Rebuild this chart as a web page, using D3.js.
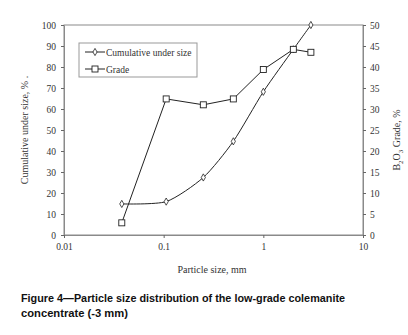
<!DOCTYPE html>
<html>
<head>
<meta charset="utf-8">
<script src="https://cdn.jsdelivr.net/npm/d3@7"></script>
<style>
  body { margin: 0; background: #fff; }
  svg { display: block; }
</style>
</head>
<body>
<div id="chart"></div>
<script>
// particle sizes (mm)
var sizes = [0.038, 0.106, 0.25, 0.5, 1, 2, 3];
var cumulative = [14.8, 15.9, 27.4, 44.6, 68.2, 88.4, 100];
var grade = [2.9, 32.4, 31.0, 32.4, 39.4, 44.2, 43.5];
var xTicks = [0.01, 0.1, 1, 10];
var xTickLabels = ["0.01", "0.1", "1", "10"];
var leftTicks = [0, 10, 20, 30, 40, 50, 60, 70, 80, 90, 100];
var rightTicks = [0, 5, 10, 15, 20, 25, 30, 35, 40, 45, 50];

var W = 408, H = 335;
var plot = {left: 64, right: 363, top: 25, bottom: 235};

var svg = d3.select("#chart").append("svg")
    .attr("width", W)
    .attr("height", H)
    .style("font-family", "'Liberation Serif', 'Times New Roman', serif");

var x = d3.scaleLog().domain([0.01, 10]).range([plot.left, plot.right]);
var yL = d3.scaleLinear().domain([0, 100]).range([plot.bottom, plot.top]);
var yR = d3.scaleLinear().domain([0, 50]).range([plot.bottom, plot.top]);

// frame
svg.append("rect")
    .attr("x", plot.left).attr("y", plot.top)
    .attr("width", plot.right - plot.left)
    .attr("height", plot.bottom - plot.top)
    .attr("fill", "none")
    .attr("stroke", "#8a8a8a")
    .attr("stroke-width", 1);

function styleAxis(g) {
    g.select(".domain").attr("stroke", "#8a8a8a");
    g.selectAll(".tick line").attr("stroke", "#666");
    g.selectAll(".tick text").attr("fill", "#333")
        .style("font-size", "9.5px")
        .style("font-family", "'Liberation Serif', 'Times New Roman', serif");
}

svg.append("g")
    .attr("transform", "translate(" + plot.left + ",0)")
    .call(d3.axisLeft(yL).tickValues(leftTicks).tickSize(3).tickPadding(5).tickSizeOuter(0))
    .call(styleAxis);

svg.append("g")
    .attr("transform", "translate(" + plot.right + ",0)")
    .call(d3.axisRight(yR).tickValues(rightTicks).tickSize(3).tickPadding(4).tickSizeOuter(0))
    .call(styleAxis);

svg.append("g")
    .attr("transform", "translate(0," + plot.bottom + ")")
    .call(d3.axisBottom(x).tickValues(xTicks)
        .tickFormat(function(d, i) { return xTickLabels[i]; })
        .tickSize(3).tickPadding(5).tickSizeOuter(0))
    .call(styleAxis);

// axis titles
svg.append("text")
    .attr("transform", "translate(28,130) rotate(-90)")
    .attr("text-anchor", "middle")
    .attr("fill", "#333")
    .style("font-size", "10px")
    .text("Cumulative under size, % .");

var rt = svg.append("text")
    .attr("transform", "translate(400,140) rotate(-90)")
    .attr("text-anchor", "middle")
    .attr("fill", "#333")
    .style("font-size", "10px");
rt.append("tspan").text("B");
rt.append("tspan").attr("dy", 3).style("font-size", "7px").text("2");
rt.append("tspan").attr("dy", -3).text("O");
rt.append("tspan").attr("dy", 3).style("font-size", "7px").text("3");
rt.append("tspan").attr("dy", -3).text(" Grade, %");

svg.append("text")
    .attr("x", 212).attr("y", 273)
    .attr("text-anchor", "middle")
    .attr("fill", "#333")
    .style("font-size", "10px")
    .text("Particle size, mm");

// series
var cumData = sizes.map(function(s, i) { return [s, cumulative[i]]; });
var gradeData = sizes.map(function(s, i) { return [s, grade[i]]; });

svg.append("path")
    .datum(cumData)
    .attr("fill", "none")
    .attr("stroke", "#222")
    .attr("stroke-width", 1)
    .attr("d", d3.line()
        .x(function(d) { return x(d[0]); })
        .y(function(d) { return yL(d[1]); })
        .curve(d3.curveCardinal.tension(0.3)));

svg.append("path")
    .datum(gradeData)
    .attr("fill", "none")
    .attr("stroke", "#222")
    .attr("stroke-width", 1)
    .attr("d", d3.line()
        .x(function(d) { return x(d[0]); })
        .y(function(d) { return yR(d[1]); }));

var diamond = d3.symbol().type(d3.symbolDiamond).size(15);

svg.append("g").selectAll("path")
    .data(cumData)
    .enter().append("path")
    .attr("transform", function(d) { return "translate(" + x(d[0]) + "," + yL(d[1]) + ")"; })
    .attr("d", diamond)
    .attr("fill", "#fff")
    .attr("stroke", "#222")
    .attr("stroke-width", 0.8);

svg.append("g").selectAll("rect")
    .data(gradeData)
    .enter().append("rect")
    .attr("x", function(d) { return x(d[0]) - 3; })
    .attr("y", function(d) { return yR(d[1]) - 3; })
    .attr("width", 6)
    .attr("height", 6)
    .attr("fill", "#fff")
    .attr("stroke", "#222")
    .attr("stroke-width", 0.9);

// legend
var legend = svg.append("g").attr("transform", "translate(79,43)");
legend.append("rect")
    .attr("width", 118).attr("height", 34)
    .attr("fill", "#fff")
    .attr("stroke", "#999");

var legendItems = ["Cumulative under size", "Grade"];
legendItems.forEach(function(name, i) {
    var ly = 9 + i * 17;
    legend.append("line")
        .attr("x1", 6).attr("x2", 26)
        .attr("y1", ly).attr("y2", ly)
        .attr("stroke", "#222");
    if (i === 0) {
        legend.append("path")
            .attr("transform", "translate(16," + ly + ")")
            .attr("d", diamond)
            .attr("fill", "#fff").attr("stroke", "#222").attr("stroke-width", 0.8);
    } else {
        legend.append("rect")
            .attr("x", 13).attr("y", ly - 3)
            .attr("width", 6).attr("height", 6)
            .attr("fill", "#fff").attr("stroke", "#222").attr("stroke-width", 0.9);
    }
    legend.append("text")
        .attr("x", 27).attr("y", ly + 3.5)
        .attr("fill", "#333")
        .style("font-size", "9.5px")
        .text(name);
});

// caption
var cap = svg.append("g")
    .style("font-family", "'Liberation Sans', Arial, sans-serif")
    .style("font-weight", "bold")
    .style("font-size", "11.5px")
    .attr("fill", "#111");
cap.append("text")
    .attr("x", 21).attr("y", 302)
    .attr("textLength", 324).attr("lengthAdjust", "spacingAndGlyphs")
    .text("Figure 4\u2014Particle size distribution of the low-grade colemanite");
cap.append("text")
    .attr("x", 21).attr("y", 317)
    .attr("textLength", 107).attr("lengthAdjust", "spacingAndGlyphs")
    .text("concentrate (-3 mm)");
</script>
</body>
</html>
